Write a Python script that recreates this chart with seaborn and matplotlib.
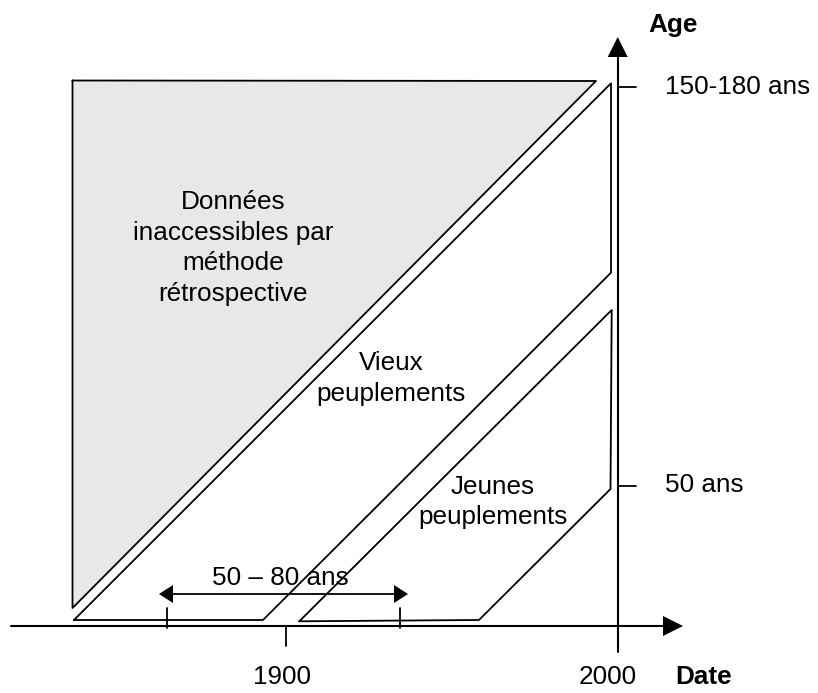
import matplotlib
matplotlib.use("Agg")
import matplotlib.pyplot as plt
import seaborn as sns

sns.set_theme(style="white")
plt.rcParams['font.family'] = ['Liberation Sans', 'DejaVu Sans']
plt.rcParams['text.color'] = 'black'

# diagram drawn on a pixel-like canvas (x to the right, y downwards)
gray_zone = [(72.5, 80.5), (596, 81), (72.5, 608)]
vieux_zone = [(74, 620), (263, 620), (611, 272.7), (611, 83.3)]
jeunes_zone = [(299.3, 621.3), (479, 620), (610.5, 489), (611.7, 310)]

date_axis = [(11, 626), (665, 626)]
age_axis = [(617.7, 652), (617.7, 55)]
date_ticks = [286]
date_tick_labels = ["1900", "2000"]
date_label_x = [282, 608]
age_ticks = [87, 485.5]
age_tick_labels = ["150-180 ans", "50 ans"]

span_x = [171, 396]
span_y = 594
span_bars = [167, 399.5]

zone_texts = ["Données\ninaccessibles par\nméthode\nrétrospective",
              "Vieux\npeuplements", "Jeunes\npeuplements"]
zone_text_pos = [(233, 248), (391.5, 378.5), (493, 502)]

fs = 18.8


def outline(ax, pts, lw=1.3):
    xs = [p[0] for p in pts] + [pts[0][0]]
    ys = [p[1] for p in pts] + [pts[0][1]]
    sns.lineplot(x=xs, y=ys, sort=False, estimator=None, color="black",
                 linewidth=lw, ax=ax)


def head(ax, tip, direction, length=20, half=9.5):
    x, y = tip
    if direction == "right":
        pts = [(x, y), (x - length, y - half), (x - length, y + half)]
    elif direction == "left":
        pts = [(x, y), (x + length, y - half), (x + length, y + half)]
    else:
        pts = [(x, y), (x - half, y + length), (x + half, y + length)]
    ax.fill([p[0] for p in pts], [p[1] for p in pts], color="black", lw=0)


fig = plt.figure(figsize=(8.18, 6.93), dpi=100)
ax = fig.add_axes([0, 0, 1, 1])
ax.set_xlim(0, 818)
ax.set_ylim(693, 0)
ax.axis("off")

# zones
ax.fill([p[0] for p in gray_zone], [p[1] for p in gray_zone], color="#e8e8e8", lw=0)
outline(ax, gray_zone)
outline(ax, vieux_zone)
outline(ax, jeunes_zone)

# axes
sns.lineplot(x=[date_axis[0][0], date_axis[1][0]], y=[date_axis[0][1], date_axis[1][1]],
             sort=False, estimator=None, color="black", linewidth=1.5, ax=ax)
sns.lineplot(x=[age_axis[0][0], age_axis[1][0]], y=[age_axis[0][1], age_axis[1][1]],
             sort=False, estimator=None, color="black", linewidth=1.5, ax=ax)
head(ax, (683, 626), "right", length=20, half=10)
head(ax, (617.7, 37), "up", length=20, half=10)

for tx in date_ticks:
    ax.plot([tx, tx], [626, 646], color="black", lw=1.3)
for ty in age_ticks:
    ax.plot([617.7, 636], [ty, ty], color="black", lw=1.3)

for lab, lx in zip(date_tick_labels, date_label_x):
    ax.text(lx, 677, lab, fontsize=fs, ha="center", va="center")
ax.text(704, 677, "Date", fontsize=fs, ha="center", va="center", fontweight="bold")
ax.text(673, 25, "Age", fontsize=fs, ha="center", va="center", fontweight="bold")
for lab, ty in zip(age_tick_labels, age_ticks):
    ax.text(665, ty, lab, fontsize=fs, ha="left", va="center")

# 50 - 80 ans span
ax.plot(span_x, [span_y, span_y], color="black", lw=1.3)
head(ax, (159, span_y), "left", length=14, half=9)
head(ax, (408, span_y), "right", length=14, half=9)
for bx in span_bars:
    ax.plot([bx, bx], [608, 628], color="black", lw=1.3)
ax.text(280, 578, "50 – 80 ans", fontsize=fs, ha="center", va="center")

for txt, (tx, ty) in zip(zone_texts, zone_text_pos):
    ax.text(tx, ty, txt, fontsize=fs, ha="center", va="center", linespacing=1.35)

fig.savefig("out.png", dpi=100)
